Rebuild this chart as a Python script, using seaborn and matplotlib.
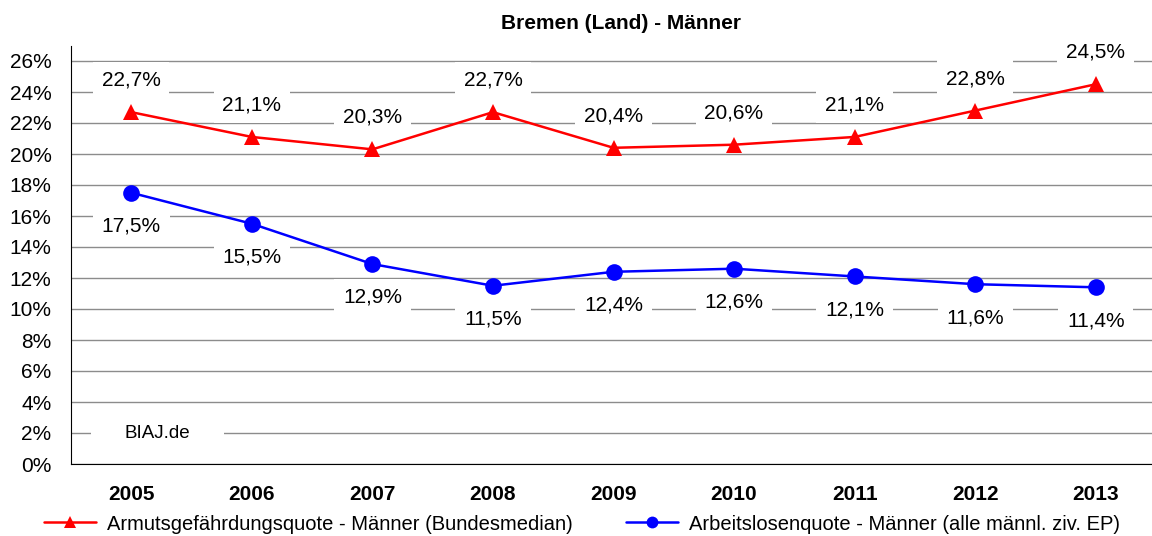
import pandas as pd
import numpy as np

import matplotlib
matplotlib.use("Agg")
import matplotlib.pyplot as plt
from matplotlib.patches import Rectangle
import seaborn as sns


# -----------------------------
# DATA
# -----------------------------

years = ["2005", "2006", "2007", "2008", "2009", "2010", "2011", "2012", "2013"]

armut = [22.7, 21.1, 20.3, 22.7, 20.4, 20.6, 21.1, 22.8, 24.5]
alq = [17.5, 15.5, 12.9, 11.5, 12.4, 12.6, 12.1, 11.6, 11.4]

label_armut = "Armutsgefährdungsquote - Männer (Bundesmedian)"
label_alq = "Arbeitslosenquote - Männer (alle männl. ziv. EP)"

title = "Bremen (Land) - Männer"
y_ticks = list(range(0, 27, 2))


# -----------------------------
# STYLE
# -----------------------------

sns.set_style("white")
plt.rcParams["font.family"] = ["Liberation Sans", "DejaVu Sans"]
plt.rcParams["text.color"] = "black"
plt.rcParams["xtick.color"] = "black"
plt.rcParams["ytick.color"] = "black"


# -----------------------------
# PLOT
# -----------------------------

df = pd.DataFrame({"Jahr": years, "Armut": armut, "ALQ": alq})

fig = plt.figure(figsize=(11.52, 5.36), dpi=100)
ax = fig.add_axes([71 / 1152, 1 - 464 / 536, 1085 / 1152, (464 - 45.5) / 536])

for y in y_ticks:
    ax.axhline(y, color="#8c8c8c", linewidth=1, zorder=0)

sns.lineplot(data=df, x="Jahr", y="Armut", ax=ax, color="#ff0000",
             marker="^", markersize=11, markeredgewidth=0, linewidth=1.8,
             label=label_armut, sort=False, zorder=3)
sns.lineplot(data=df, x="Jahr", y="ALQ", ax=ax, color="#0000ff",
             marker="o", markersize=12, markeredgewidth=0, linewidth=1.8,
             label=label_alq, sort=False, zorder=3)

box = dict(boxstyle="square,pad=0.42", facecolor="white", edgecolor="none")

for i, v in enumerate(armut):
    ax.annotate(f"{v:.1f}%".replace(".", ","), (i, v), xytext=(0, 23),
                textcoords="offset points", ha="center", va="center",
                fontsize=15, bbox=box, zorder=2)

for i, v in enumerate(alq):
    ax.annotate(f"{v:.1f}%".replace(".", ","), (i, v), xytext=(0, -24),
                textcoords="offset points", ha="center", va="center",
                fontsize=15, bbox=box, zorder=2)

# BIAJ text box (white, hides the 2% gridline)
ax.add_patch(Rectangle((-0.33, 1.3), 1.1, 1.4, facecolor="white",
                       edgecolor="none", zorder=1))
ax.text(0.22, 2, "BIAJ.de", ha="center", va="center", fontsize=13.5, zorder=2)

ax.set_xlim(-0.5, len(years) - 0.5)
ax.set_ylim(0, 27)
ax.set_yticks(y_ticks)
ax.set_yticklabels([f"{t}%" for t in y_ticks], fontsize=15)
ax.set_xticks(range(len(years)))
ax.set_xticklabels(years, fontsize=15, fontweight="bold")
ax.set_xticks(np.arange(0.5, len(years) - 0.5, 1), minor=True)
ax.tick_params(axis="x", which="major", length=0, pad=15)
ax.tick_params(axis="x", which="minor", direction="in", length=6, color="#8c8c8c")
ax.tick_params(axis="y", length=0, pad=14)
ax.set_xlabel("")
ax.set_ylabel("")

for side in ["top", "right"]:
    ax.spines[side].set_visible(False)
ax.spines["left"].set_color("black")
ax.spines["bottom"].set_color("black")

ax.set_title(title, fontsize=15, fontweight="bold", pad=12, x=0.507)

handles, labels = ax.get_legend_handles_labels()
ax.get_legend().remove()
leg = fig.legend(handles, labels, loc="center", bbox_to_anchor=(582 / 1152, 1 - 524 / 536),
                 ncol=2, frameon=False, fontsize=14.5, columnspacing=2.6,
                 handlelength=2.6, handletextpad=0.55)
for h in leg.legend_handles:
    h.set_markersize(8.5)

fig.savefig("out.png", dpi=100)
